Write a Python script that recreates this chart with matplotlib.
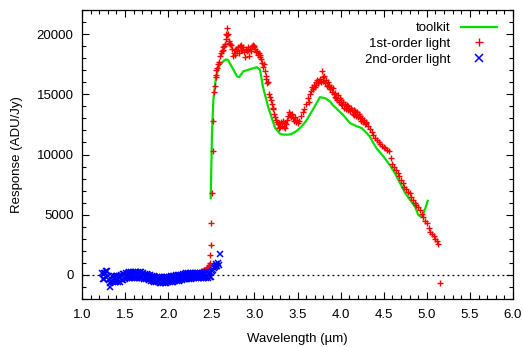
import matplotlib
matplotlib.use('Agg')
import matplotlib.pyplot as plt
from matplotlib.ticker import MultipleLocator

plt.rcParams['font.family'] = ['Liberation Sans', 'DejaVu Sans']

# toolkit response curve
toolkit_wl = [2.493, 2.508, 2.524, 2.555, 2.60, 2.659, 2.69, 2.736, 2.80, 2.825, 2.87, 2.93,
              2.99, 3.03, 3.065, 3.10, 3.16, 3.24, 3.30, 3.34, 3.39, 3.43, 3.49, 3.55,
              3.607, 3.70, 3.76, 3.82, 3.877, 3.91, 3.954, 4.03, 4.11, 4.186, 4.244, 4.30,
              4.34, 4.36, 4.418, 4.46, 4.496, 4.573, 4.63, 4.69, 4.75, 4.805, 4.863, 4.90,
              4.93, 4.96, 4.99, 5.01]
toolkit_resp = [6370, 11770, 14540, 16480, 17450, 17870, 17870, 17310, 16480, 16430, 16900, 17040,
                17170, 17250, 17040, 15600, 13940, 12200, 11700, 11650, 11650, 11700, 11950, 12350,
                12860, 14000, 14760, 14680, 14400, 14100, 13800, 13280, 12600, 12350, 12200, 11800,
                11480, 11200, 10500, 10150, 9850, 9100, 8450, 7620, 6790, 6230, 5680, 4990,
                4850, 5120, 5680, 6150]

# 1st-order light
first_wl = [2.38, 2.39, 2.40, 2.41, 2.42, 2.43, 2.44, 2.45, 2.46, 2.47, 2.48, 2.49, 2.495,
            2.50, 2.51, 2.515, 2.52, 2.53, 2.54, 2.55, 2.555, 2.56, 2.57, 2.58, 2.59,
            2.60, 2.61, 2.62, 2.63, 2.64, 2.65, 2.66, 2.67, 2.675, 2.68, 2.685, 2.69,
            2.70, 2.71, 2.72, 2.73, 2.74, 2.75, 2.76, 2.77, 2.78, 2.79,
            2.80, 2.81, 2.82, 2.83, 2.84, 2.85, 2.86, 2.87, 2.88, 2.89,
            2.90, 2.91, 2.92, 2.93, 2.94, 2.95, 2.96, 2.97, 2.98, 2.99,
            3.00, 3.01, 3.02, 3.03, 3.04, 3.05, 3.06, 3.07, 3.08, 3.09,
            3.10, 3.11, 3.12, 3.13, 3.14, 3.15, 3.16, 3.17, 3.18, 3.19,
            3.20, 3.21, 3.22, 3.23, 3.24, 3.25, 3.26, 3.27, 3.28, 3.29,
            3.30, 3.31, 3.32, 3.33, 3.34, 3.35, 3.36, 3.37, 3.38, 3.39,
            3.40, 3.41, 3.42, 3.43, 3.44, 3.45, 3.46, 3.47, 3.48, 3.49,
            3.50, 3.52, 3.54, 3.56, 3.58, 3.60, 3.62, 3.63, 3.65, 3.66,
            3.67, 3.68, 3.69, 3.70, 3.71, 3.72, 3.73, 3.74, 3.75, 3.76,
            3.77, 3.78, 3.79, 3.80, 3.81, 3.82, 3.83, 3.84, 3.85, 3.86,
            3.87, 3.88, 3.89, 3.90, 3.91, 3.92, 3.93, 3.94, 3.95, 3.96,
            3.97, 3.98, 3.99, 4.00, 4.01, 4.02, 4.03, 4.04, 4.05, 4.06,
            4.07, 4.08, 4.09, 4.10, 4.11, 4.12, 4.13, 4.14, 4.15, 4.16,
            4.17, 4.18, 4.19, 4.20, 4.21, 4.22, 4.23, 4.24, 4.25, 4.26,
            4.27, 4.28, 4.29, 4.30, 4.32, 4.34, 4.36, 4.38, 4.40, 4.42,
            4.44, 4.46, 4.48, 4.50, 4.52, 4.54, 4.56, 4.58, 4.60, 4.62,
            4.64, 4.66, 4.68, 4.70, 4.72, 4.74, 4.76, 4.78, 4.80, 4.82,
            4.84, 4.86, 4.88, 4.90, 4.92, 4.94, 4.96, 4.98, 5.00, 5.02,
            5.04, 5.06, 5.08, 5.10, 5.12, 5.13, 5.15]
first_resp = [300, 330, 350, 380, 400, 420, 480, 560, 650, 800, 1000, 1650, 2500,
              4300, 6800, 10300, 12750, 15200, 15700, 16400, 16600, 17000, 17200, 17500, 17700,
              18200, 18400, 18600, 18700, 18900, 19000, 19200, 19600, 20000, 19900, 20500, 20000,
              19400, 19300, 19200, 19100, 18800, 18200, 18400, 18700, 18300, 18800,
              18600, 18900, 18400, 19000, 18700, 19100, 18700, 18900, 18500, 18100,
              18800, 18600, 18900, 18700, 18200, 18800, 18600, 19000, 19100, 18900,
              19000, 18800, 18500, 18600, 18300, 18400, 18100, 18300, 17900, 17600,
              17300, 17500, 16900, 16500, 16300, 15900, 16000, 15000, 14800, 14500,
              14200, 13900, 13800, 13400, 13100, 12900, 12700, 12500, 12200, 12600,
              12300, 12700, 12400, 12800, 12300, 12600, 12200, 12500, 12900, 13200,
              13500, 13400, 13300, 13100, 13400, 13000, 12800, 13100, 12700, 12900,
              12600, 12800, 13200, 13500, 13800, 14200, 14700, 14400, 15000, 15300,
              15600, 15400, 15800, 15600, 16000, 15800, 16200, 15900, 16100, 16300,
              16000, 16950, 16400, 16100, 16500, 15900, 16200, 15700, 16000, 15600,
              15800, 15400, 15600, 15200, 15500, 15000, 14800, 15100, 14700, 14500,
              14900, 14400, 14700, 14200, 14500, 14100, 14400, 13900, 14200, 13800,
              14100, 13700, 14000, 13800, 13600, 13900, 13700, 13400, 13700, 13300,
              13600, 13200, 13500, 13100, 13400, 13000, 13200, 12800, 13000, 12700,
              12900, 12500, 12700, 12600, 12400, 12100, 11900, 11600, 11400, 11200,
              11000, 10900, 10700, 10600, 10500, 10400, 10300, 9700, 9200, 9000,
              8700, 8500, 8200, 7900, 7600, 7300, 7100, 6900, 6800, 6500,
              6200, 6000, 5800, 5600, 5400, 5100, 4800, 4500, 4300, 3900,
              3600, 3400, 3200, 3000, 2800, 2600, -650]

# 2nd-order light
second_wl = [1.23, 1.24, 1.25, 1.26, 1.27, 1.28, 1.29, 1.30, 1.31, 1.32, 1.33, 1.34,
             1.35, 1.36, 1.37, 1.38, 1.39, 1.40, 1.41, 1.42, 1.43, 1.44, 1.45, 1.46,
             1.47, 1.48, 1.49, 1.50, 1.51, 1.52, 1.53, 1.54, 1.55, 1.56, 1.57, 1.58,
             1.59, 1.60, 1.61, 1.62, 1.63, 1.64, 1.65, 1.66, 1.67, 1.68, 1.69, 1.70,
             1.71, 1.72, 1.73, 1.74, 1.75, 1.76, 1.77, 1.78, 1.79, 1.80, 1.81, 1.82,
             1.83, 1.84, 1.85, 1.86, 1.87, 1.88, 1.89, 1.90, 1.91, 1.92, 1.93, 1.94,
             1.95, 1.96, 1.97, 1.98, 1.99, 2.00, 2.01, 2.02, 2.03, 2.04, 2.05, 2.06,
             2.07, 2.08, 2.09, 2.10, 2.11, 2.12, 2.13, 2.14, 2.15, 2.16, 2.17, 2.18,
             2.19, 2.20, 2.21, 2.22, 2.23, 2.24, 2.25, 2.26, 2.27, 2.28, 2.29, 2.30,
             2.31, 2.32, 2.33, 2.34, 2.35, 2.36, 2.37, 2.38, 2.39, 2.40, 2.41, 2.42,
             2.43, 2.44, 2.45, 2.46, 2.47, 2.48, 2.49, 2.50, 2.51, 2.52, 2.53, 2.54,
             2.55, 2.56, 2.57, 2.58, 2.59, 2.60]
second_resp = [120, -320, 120, -320, 120, 300, 350, -50, -400, -1000, -700, -550,
               -130, -570, -130, -570, -130, -570, -130, -570, -130, -570, -20, -440,
               40, -400, 100, -340, 190, -250, 190, -250, 220, -220, 220, -220,
               220, -220, 220, -220, 220, -220, 220, -220, 220, -220, 220, -220,
               140, -300, 70, -370, 70, -370, 20, -420, -30, -470, -80, -520,
               -130, -570, -160, -600, -180, -620, -210, -650, -210, -650, -210, -650,
               -210, -650, -210, -650, -180, -620, -160, -600, -110, -550, -110, -550,
               -80, -520, -30, -470, -30, -470, 20, -420, 20, -420, 70, -370,
               70, -370, 120, -320, 120, -320, 120, -320, 170, -270, 170, -270,
               170, -270, 170, -270, 170, -270, 170, -270, 170, -270, 170, -270,
               170, -270, 220, -220, 200, -200, 250, -150, 350, 400, 600, 650,
               750, 900, 700, 950, 850, 1700]

fig = plt.figure(figsize=(5.23, 3.47), dpi=100)
ax = fig.add_axes([0.1568, 0.1383, 0.8241, 0.8329])

ax.axhline(0, color='black', linestyle=(0, (1.5, 2.5)), linewidth=0.9, zorder=1)

ax.plot(toolkit_wl, toolkit_resp, color='#00e000', linewidth=1.6, label='toolkit', zorder=2)
ax.plot(first_wl, first_resp, linestyle='none', marker='+', color='red',
        markersize=4.2, markeredgewidth=1.0, label='1st-order light', zorder=3)
ax.plot(second_wl, second_resp, linestyle='none', marker='x', color='blue',
        markersize=4, markeredgewidth=1.1, label='2nd-order light', zorder=3)

ax.set_xlim(1.0, 6.0)
ax.set_ylim(-2000, 22000)
ax.xaxis.set_major_locator(MultipleLocator(0.5))
ax.xaxis.set_minor_locator(MultipleLocator(0.1))
ax.yaxis.set_major_locator(MultipleLocator(5000))
ax.yaxis.set_minor_locator(MultipleLocator(1000))
ax.set_xticklabels([f'{v:.1f}' for v in ax.get_xticks()])
ax.tick_params(which='both', direction='in', top=True, right=True, labelsize=9.5, width=0.8)
ax.tick_params(which='major', length=5, pad=6)
ax.tick_params(which='minor', length=3)
ax.tick_params(axis='x', which='major', pad=7.5)
for s in ax.spines.values():
    s.set_linewidth(0.9)

ax.set_xlabel('Wavelength (µm)', fontsize=9.5, labelpad=8.5)
ax.set_ylabel('Response (ADU/Jy)', fontsize=9.5, labelpad=9.5)

leg = ax.legend(loc='upper right', frameon=False, markerfirst=False, fontsize=9.5,
                handlelength=2.7, labelspacing=0.25, borderaxespad=0.3, markerscale=1.4,
                bbox_to_anchor=(1 - 7 / 431, 1 - 3 / 289))

fig.savefig('out.png', dpi=100)
